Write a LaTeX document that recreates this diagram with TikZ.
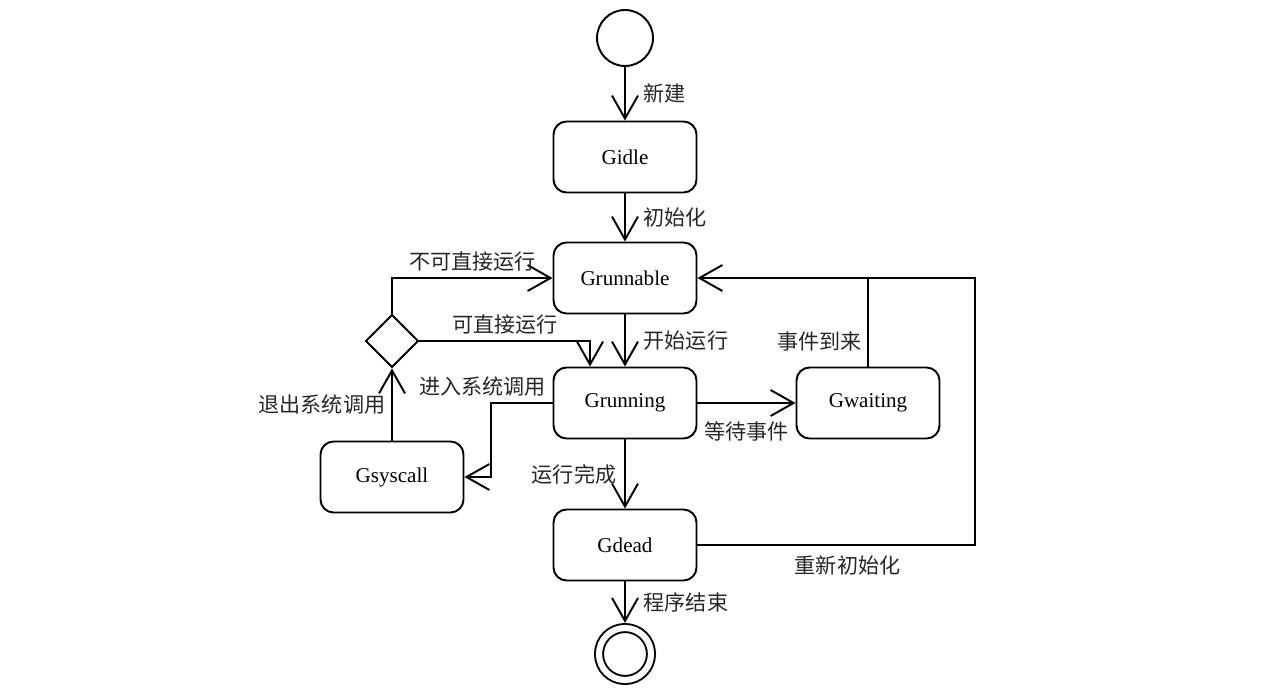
\documentclass[tikz,border=0pt]{standalone}
\usepackage{fontspec}
\setmainfont{Liberation Serif}
\newfontfamily\cjk{Noto Sans CJK SC}
\usetikzlibrary{arrows.meta, shapes.geometric}

\tikzset{
  gstate/.style={draw, line width=1.1pt, rounded corners=0.26cm, minimum width=2.86cm, minimum height=1.42cm, font=\fontsize{12}{14}\selectfont},
  lbl/.style={font=\cjk\fontsize{12}{14}\selectfont, text=black!85},
  arr/.style={line width=1.1pt, -{Straight Barb[length=4.6mm, width=5.2mm, line width=1.1pt]}},
}

\begin{document}
\begin{tikzpicture}[x=0.02cm, y=-0.02cm]
    \useasboundingbox (0,0) rectangle (1264,699);

    % Start and end points
    \node[draw, circle, line width=1.1pt, minimum size=1.12cm, inner sep=0] (start) at (625,38) {};
    \node[draw, circle, line width=1.1pt, double, double distance=3.5pt, minimum size=1.04cm, inner sep=0, outer sep=2.9pt] (finish) at (625,654) {};

    % States
    \node[gstate] (idle) at (625,157) {Gidle};
    \node[gstate] (runnable) at (625,278) {Grunnable};
    \node[gstate] (running) at (625,403) {Grunning};
    \node[gstate] (waiting) at (868,403) {Gwaiting};
    \node[gstate] (syscall) at (392,477) {Gsyscall};
    \node[gstate] (dead) at (625,545) {Gdead};

    % Decision
    \node[draw, diamond, aspect=1, line width=1.1pt, minimum size=1.06cm, inner sep=0] (decide) at (392,341) {};

    % Main column
    \draw[arr] (start) -- node[lbl, right=0.24cm] (lnew) {新建} (idle);
    \draw[arr] (idle) -- node[lbl, right=0.24cm] (linit) {初始化} (runnable);
    \draw[arr] (runnable) -- node[lbl, right=0.24cm] (lstart) {开始运行} (running);
    \draw[arr] (running) -- node[lbl, left=0.04cm] (ldone) {运行完成} (dead);
    \draw[arr] (dead) -- node[lbl, right=0.24cm] (lend) {程序结束} (finish);

    % System call loop
    \draw[arr] (running.west) -- node[lbl, pos=0, above left] (lenter) {进入系统调用} ++(-62,0) |- (syscall.east);
    \draw[arr] (syscall) -- node[lbl, left] (lexit) {退出系统调用} (decide);
    \draw[arr] (decide.north) |- node[lbl, pos=0.75, above] (lnodirect) {不可直接运行} (runnable.west);
    \draw[arr] (decide.east) -| node[lbl, pos=0.25, above] (ldirect) {可直接运行} ([xshift=-0.7cm]running.north);

    % Waiting
    \draw[arr] (running) -- node[lbl, below=0.24cm] (lwait) {等待事件} (waiting);
    \coordinate (join) at (waiting.north |- runnable.east);
    \draw[line width=0.6pt] (waiting.north) -- node[lbl, pos=0.28, left] (levent) {事件到来} (join);

    % Re-initialise
    \draw[arr] (dead.east) -- node[lbl, pos=0.54, below=0.08cm] (lreinit) {重新初始化} ++(278,0) |- (runnable.east);
\end{tikzpicture}
\end{document}
